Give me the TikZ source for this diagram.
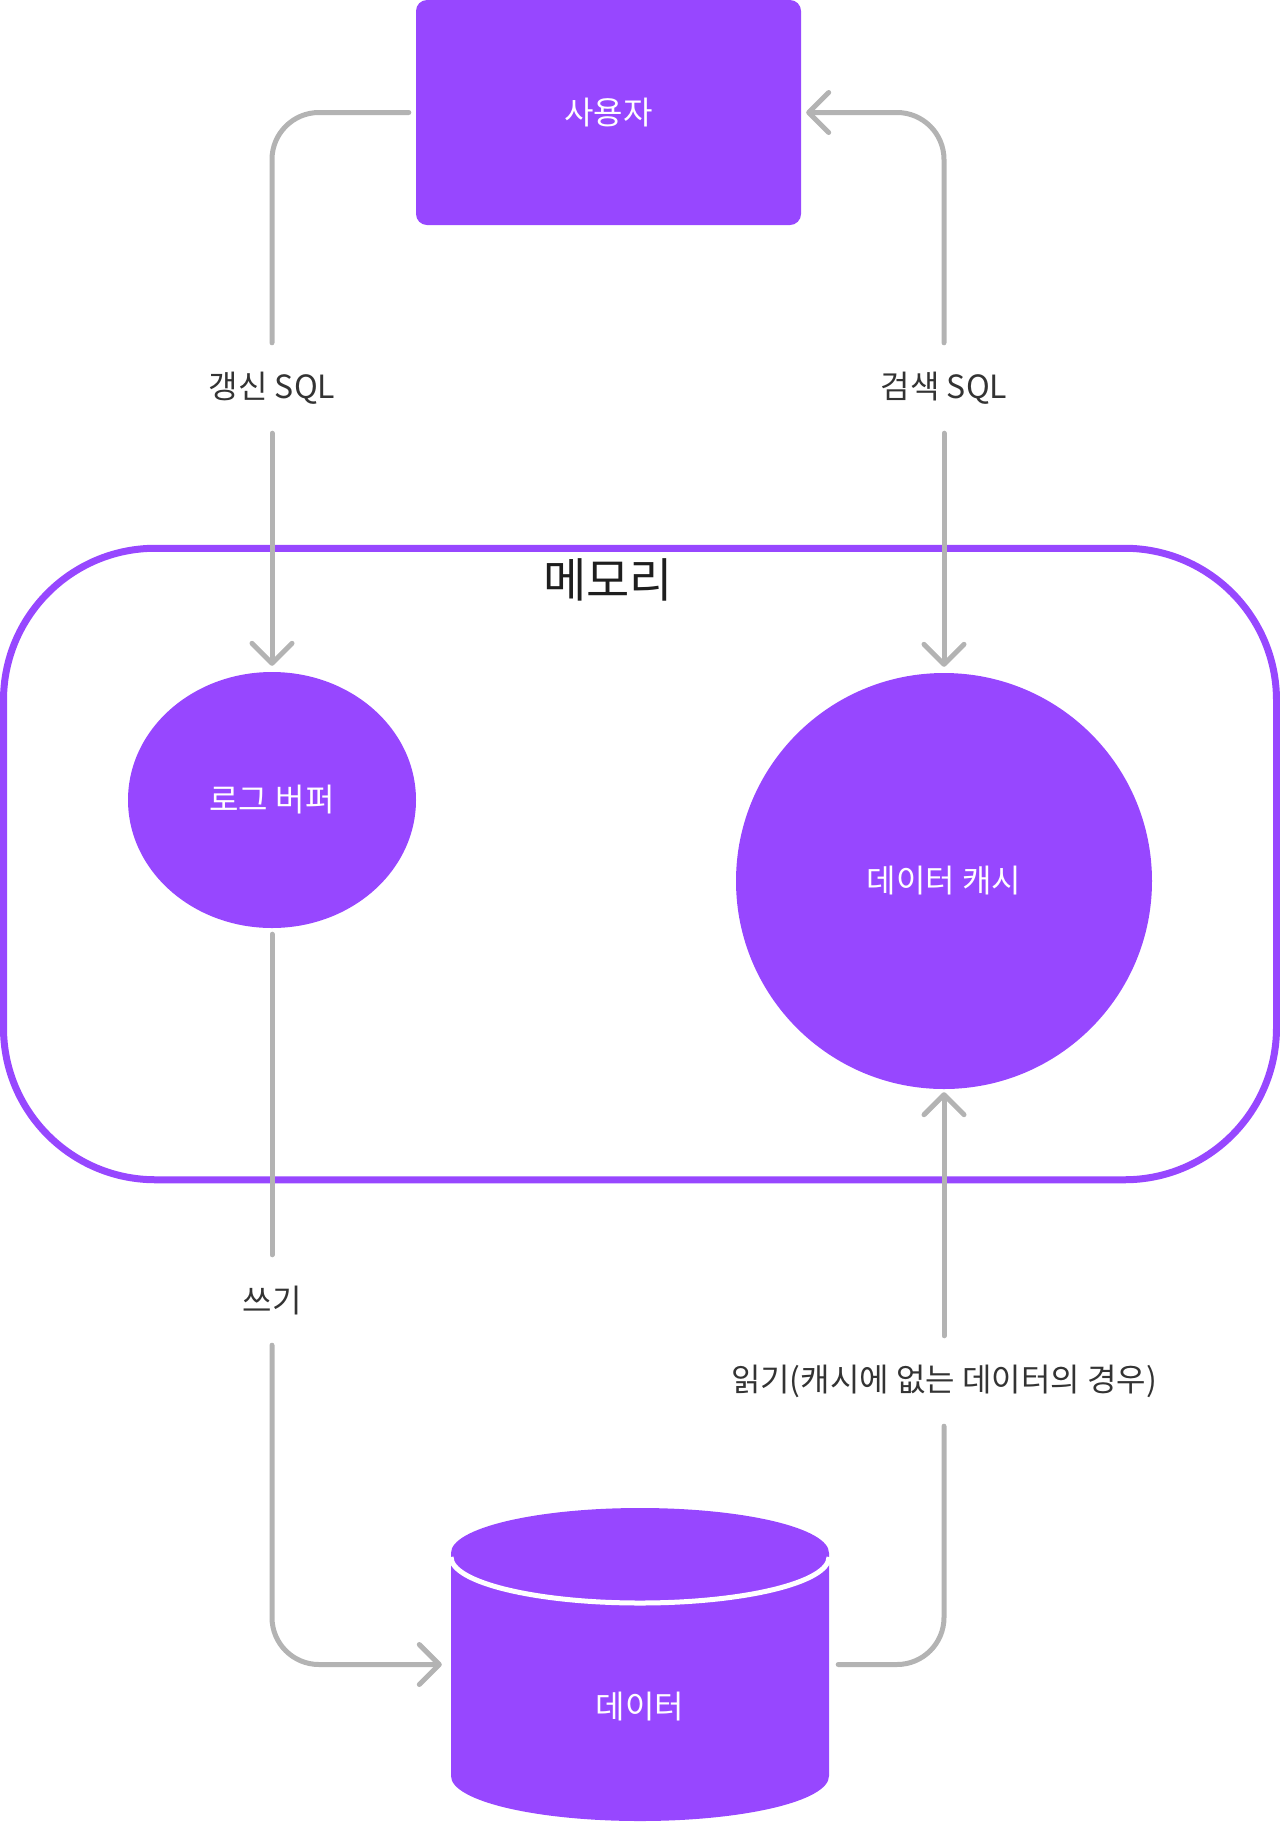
\documentclass[tikz,border=0pt]{standalone}
\usepackage{fontspec}
\setmainfont{Noto Sans CJK KR}
\usetikzlibrary{arrows.meta,shapes.geometric}
\definecolor{mpurple}{HTML}{9747FF}
\definecolor{lgray}{HTML}{B3B3B3}
\definecolor{ltext}{HTML}{333333}
\definecolor{mtext}{HTML}{1E1E1E}

\begin{document}
\begin{tikzpicture}[x=1pt,y=-1pt,font=\fontsize{32}{38}\selectfont,
  box/.style={fill=mpurple,text=white,inner sep=0pt},
  link/.style={draw=lgray,line width=5pt,rounded corners=47pt,line cap=round},
  tip/.style={-{Straight Barb[length=20pt,width=40pt,round]}},
  lbl/.style={text=ltext,minimum height=90pt,inner sep=0pt}]
  \useasboundingbox (0,0) rectangle (1280,1824);

  % memory area
  \node[draw=mpurple,line width=7pt,rounded corners=152pt,inner sep=0pt,
    minimum width=1273pt,minimum height=631.5pt] (mem) at (640,864) {};
  \node[text=mtext,font=\fontsize{47}{54}\selectfont] (memlbl) at (608,580) {메모리};

  \node[box,rectangle,rounded corners=11pt,minimum width=385pt,minimum height=225pt]
    (user) at (608.5,112.5) {사용자};
  \node[box,ellipse,minimum width=288pt,minimum height=256pt] (logbuf) at (272,800) {로그 버퍼};
  \node[box,circle,minimum size=416pt] (cache) at (944,881) {데이터 캐시};

  % storage cylinder
  \fill[mpurple] (451,1553) -- (451,1776) arc[start angle=180,end angle=0,x radius=189,y radius=45]
    -- (829,1553) -- cycle;
  \fill[mpurple] (640,1553) ellipse[x radius=189,y radius=45];
  \draw[white,line width=5pt] (451,1557) arc[start angle=180,end angle=0,x radius=189,y radius=46];
  \node[inner sep=0pt,minimum width=378pt,minimum height=313pt] (data) at (640,1664.5) {};
  \node[text=white] (datalbl) at ([yshift=-42pt]data.center) {데이터};

  \foreach \n/\x/\y/\t in {upd/272/388/갱신 SQL,sel/944/388/검색 SQL,
      wr/272/1300/쓰기,rd/944/1381/읽기(캐시에 없는 데이터의 경우)}
    \node[lbl] (\n) at (\x,\y) {\t};

  \draw[link,shorten <=7pt] (user.west) -| (upd.north);
  \draw[link,tip,shorten >=6pt] (upd.south) -- (logbuf.north);
  \draw[link,tip,shorten >=5pt] (sel.north) |- (user.east);
  \draw[link,tip,shorten >=6pt] (sel.south) -- (cache.north);
  \draw[link,shorten <=6pt] (logbuf.south) -- (wr.north);
  \draw[link,tip,shorten >=9pt] (wr.south) |- (data.west);
  \draw[link,shorten <=9pt] (data.east) -| (rd.south);
  \draw[link,tip,shorten >=3pt] (rd.north) -- (cache.south);
\end{tikzpicture}
\end{document}
